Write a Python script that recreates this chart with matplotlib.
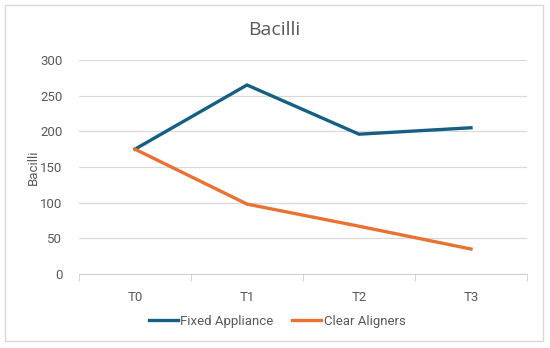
import matplotlib.pyplot as plt
from matplotlib.patches import Rectangle

# data
timepoints = ['T0', 'T1', 'T2', 'T3']
fixed_appliance = [175, 265, 196, 205]
clear_aligners = [175, 98, 67, 35]

grey = '#595959'
narrow = ['Liberation Sans Narrow', 'Roboto', 'DejaVu Sans']
plt.rcParams['font.family'] = narrow

fig = plt.figure(figsize=(5.5, 3.48), dpi=100)
ax = fig.add_axes([79 / 550, 1 - 274 / 348, (527 - 79) / 550, (274 - 60) / 348])

# light outer frame like the Excel chart area
fig.patches.append(Rectangle((5 / 550, 7 / 348), 538 / 550, 336 / 348, transform=fig.transFigure,
                             fill=False, edgecolor='#d9d9d9', linewidth=1))

x = range(len(timepoints))
ax.plot(x, fixed_appliance, color='#156082', linewidth=2.4, label='Fixed Appliance')
ax.plot(x, clear_aligners, color='#E97132', linewidth=2.4, label='Clear Aligners')

ax.set_xlim(-0.5, 3.5)
ax.set_ylim(0, 300)
ax.set_yticks(range(0, 301, 50))
ax.set_xticks(list(x))
ax.set_xticklabels(timepoints)
ax.grid(axis='y', color='#d9d9d9', linewidth=0.9)
ax.set_axisbelow(True)

for s in ['top', 'right', 'left']:
    ax.spines[s].set_visible(False)
ax.spines['bottom'].set_color('#d0d0d0')

# category separator ticks
ax.set_xticks([-0.5, 0.5, 1.5, 2.5, 3.5], minor=True)
ax.tick_params(axis='x', which='minor', length=5, color='#d0d0d0')
ax.tick_params(axis='x', which='major', length=0, pad=12, labelsize=9.5, labelcolor=grey)
ax.tick_params(axis='y', length=0, pad=12, labelsize=9.5, labelcolor=grey)

ax.set_ylabel('Bacilli', color=grey, fontsize=9.5, labelpad=0)
fig.text(274 / 550, 1 - 30 / 348, 'Bacilli', ha='center', va='center', fontsize=14, color=grey,
         family=['Open Sans', 'DejaVu Sans'])

fig.legend(loc='center', bbox_to_anchor=(277 / 550, 1 - 321 / 348), ncol=2, frameon=False,
           fontsize=9.5, labelcolor=grey, handlelength=2.2, handletextpad=0.2, columnspacing=1.4)

fig.savefig('out.png', dpi=100)
